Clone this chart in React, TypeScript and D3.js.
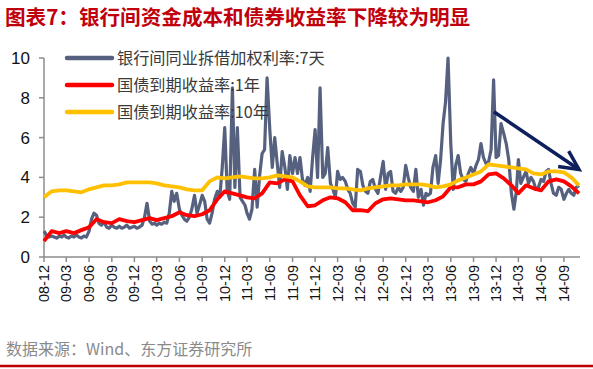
import * as d3 from "d3";

// 银行间同业拆借加权利率:7天 — one reading every 10 days (1st, 11th, 21st)
const rate7d = [
  1.3, 1.1, 1.0, 1.05, 1.0, 0.95, 1.05, 1.0, 1.1, 1.0,
  0.95, 1.05, 1.0, 1.1, 1.0, 0.95, 1.05, 1.0, 1.3, 1.9,
  2.2, 2.1, 1.7, 1.6, 1.75, 1.5, 1.45, 1.6, 1.5, 1.45,
  1.55, 1.45, 1.5, 1.6, 1.45, 1.5, 1.55, 1.45, 1.5, 1.6,
  2.0, 2.7, 1.8, 1.65, 1.7, 1.6, 1.7, 1.65, 1.75, 1.7,
  2.2, 3.3, 2.8, 3.2, 2.4, 2.1, 1.9, 1.8, 2.0, 2.4,
  3.1, 2.2, 2.6, 3.1, 2.8, 1.9, 1.7, 2.2, 2.9, 3.3,
  3.0, 4.5, 6.5, 3.3, 2.9, 8.5, 3.5, 6.5, 3.0, 2.8,
  2.6, 2.2, 1.9, 2.4, 4.4, 2.5, 4.1, 5.2, 5.4, 9.0,
  6.4, 4.5, 6.0, 4.7, 3.5, 5.3, 4.5, 3.4, 5.1, 4.2,
  5.0, 4.2, 5.0, 3.9, 3.6, 4.0, 3.3, 5.0, 6.4, 4.0,
  8.5, 4.0, 4.2, 5.5, 3.7, 3.4, 3.0, 4.3, 3.9, 4.0,
  3.8, 3.4, 3.2, 2.7, 2.5, 4.4, 4.3, 3.6, 3.3, 3.2,
  3.8, 3.9, 3.4, 3.2, 4.0, 4.8, 3.4, 4.2, 4.3, 3.3,
  3.2, 3.5, 3.3, 3.5, 4.6, 4.0, 3.5, 3.3, 4.4, 3.0,
  3.4, 2.6, 3.2, 3.1, 3.2, 4.5, 5.1, 3.7, 4.9, 6.7,
  7.8, 10.0, 5.7, 3.4, 4.6, 5.1, 4.2, 3.9, 3.8, 4.2,
  4.5, 4.2, 4.6, 4.9, 5.7, 5.0, 4.7, 4.8, 5.4, 8.9,
  5.0, 5.1, 6.7, 6.2, 5.7, 4.9, 3.2, 2.4, 3.3, 4.9,
  3.7, 4.0, 4.3, 3.7, 4.0, 3.8, 3.4, 3.5, 3.9, 3.8,
  4.3, 4.4, 3.7, 3.2, 3.1, 3.5, 3.4, 2.9, 3.2, 3.4,
  3.2, 3.1, 3.5, 3.6,
];

// 国债到期收益率:1年 — monthly
const yield1y = [
  0.8, 1.3, 1.2, 1.3, 1.2, 1.35, 1.5, 1.9, 1.75, 1.7,
  1.9, 1.8, 1.75, 1.85, 1.95, 1.85, 1.95, 2.05, 2.25, 2.1,
  2.05, 2.15, 2.35, 2.9, 3.3, 3.2, 3.1, 3.0, 2.95, 3.2,
  3.75, 3.7, 3.9, 3.8, 3.1, 2.55, 2.6, 2.85, 3.0, 2.95,
  2.75, 2.35, 2.35, 2.3, 2.7, 2.9, 2.95, 2.9, 2.85, 2.85,
  2.8, 2.75, 2.85, 3.05, 3.5, 3.5, 3.65, 3.65, 3.8, 4.15,
  4.2, 3.95, 3.6, 3.2, 3.6, 3.45, 3.35, 3.8, 3.9, 3.8,
  3.55, 3.2,
];

// 国债到期收益率:10年 — monthly
const yield10y = [
  3.0, 3.3, 3.35, 3.35, 3.3, 3.25, 3.4, 3.5, 3.6, 3.6,
  3.65, 3.75, 3.75, 3.75, 3.75, 3.7, 3.6, 3.55, 3.5, 3.4,
  3.35, 3.35, 3.8, 4.0, 3.95, 4.0, 4.05, 4.0, 3.95, 3.95,
  4.0, 4.1, 4.05, 4.0, 3.8, 3.55, 3.5, 3.5, 3.5, 3.45,
  3.45, 3.4, 3.35, 3.45, 3.5, 3.55, 3.6, 3.6, 3.65, 3.65,
  3.65, 3.6, 3.5, 3.55, 3.65, 3.85, 4.0, 4.15, 4.3, 4.65,
  4.6, 4.55, 4.5, 4.45, 4.4, 4.2, 4.15, 4.3, 4.3, 4.25,
  4.0, 3.6,
];

const tickLabels = [
  "08-12", "09-03", "09-06", "09-09", "09-12", "10-03", "10-06", "10-09",
  "10-12", "11-03", "11-06", "11-09", "11-12", "12-03", "12-06", "12-09",
  "12-12", "13-03", "13-06", "13-09", "13-12", "14-03", "14-06", "14-09",
];
const yTicks = [0, 2, 4, 6, 8, 10];

const seriesNames = ["银行间同业拆借加权利率:7天", "国债到期收益率:1年", "国债到期收益率:10年"];
const colors = ["#56617f", "#ff0000", "#ffc000"];
const widths = [3.2, 3.8, 3.8];

// arrow annotation, in data space
const arrowFrom = { date: "2013-11-22", value: 7.3 };
const arrowTo = { date: "2014-11-01", value: 4.4 };

const parseYm = (s: string) => new Date(2000 + +s.slice(0, 2), +s.slice(3) - 1, 1);

const monthDates = d3.timeMonth.range(new Date(2008, 11, 1), new Date(2014, 11, 1)).slice(0, yield1y.length);
const rateDates: Date[] = [];
monthDates.forEach((m) => [1, 11, 21].forEach((d) => rateDates.push(new Date(m.getFullYear(), m.getMonth(), d))));
rateDates.length = rate7d.length;

export default function App() {
  const W = 593, H = 369;
  const x = d3.scaleTime().domain([new Date(2008, 11, 1), new Date(2014, 10, 5)]).range([44, 580]);
  const y = d3.scaleLinear().domain([0, 10]).range([257, 58]);

  const line = d3
    .line<[Date, number]>()
    .x((d) => x(d[0]))
    .y((d) => y(d[1]));

  const series = [
    rateDates.map((d, i) => [d, rate7d[i]] as [Date, number]),
    monthDates.map((d, i) => [d, yield1y[i]] as [Date, number]),
    monthDates.map((d, i) => [d, yield10y[i]] as [Date, number]),
  ];

  // arrow
  const ax1 = x(new Date(arrowFrom.date)), ay1 = y(arrowFrom.value);
  const ax2 = x(new Date(arrowTo.date)), ay2 = y(arrowTo.value);
  const ang = Math.atan2(ay1 - ay2, ax1 - ax2);
  const hl = 21, spread = 0.46;
  const head = [
    [ax2 + hl * Math.cos(ang - spread), ay2 + hl * Math.sin(ang - spread)],
    [ax2, ay2],
    [ax2 + hl * Math.cos(ang + spread), ay2 + hl * Math.sin(ang + spread)],
  ];

  const cjk = '"Noto Sans CJK SC", "Noto Sans", sans-serif';
  const latin = '"Liberation Sans", Arial, sans-serif';

  return (
    <svg width={W} height={H} style={{ display: "block", position: "absolute", left: 0, top: 0, background: "#fff" }}>
      <style>{`body{margin:0}`}</style>
      <text x={5} y={25} fill="#c0000c" fontFamily={cjk} fontSize={20.6} fontWeight={700}>
        图表7：银行间资金成本和债券收益率下降较为明显
      </text>

      {/* y axis */}
      <line x1={44} x2={44} y1={y(10)} y2={y(0)} stroke="#8c8c8c" strokeWidth={1.5} />
      {yTicks.map((t) => (
        <g key={t}>
          <line x1={39} x2={44} y1={y(t)} y2={y(t)} stroke="#8c8c8c" strokeWidth={1.5} />
          <text x={30} y={y(t)} dy="0.35em" textAnchor="end" fontFamily={latin} fontSize={17} fill="#111">
            {t}
          </text>
        </g>
      ))}

      {/* x axis */}
      <line x1={44} x2={580} y1={y(0)} y2={y(0)} stroke="#8c8c8c" strokeWidth={1.5} />
      {tickLabels.map((l) => {
        const tx = x(parseYm(l));
        return (
          <g key={l}>
            <line x1={tx} x2={tx} y1={y(0)} y2={y(0) + 5} stroke="#8c8c8c" strokeWidth={1.5} />
            <text
              transform={`translate(${tx},${y(0) + 8}) rotate(-90)`}
              textAnchor="end"
              dy="0.35em"
              fontFamily={latin}
              fontSize={14.5}
              fill="#111"
            >
              {l}
            </text>
          </g>
        );
      })}

      {/* series */}
      {series.map((s, i) => (
        <path key={i} d={line(s) || ""} fill="none" stroke={colors[i]} strokeWidth={widths[i]} strokeLinejoin="round" />
      ))}

      {/* arrow */}
      <line x1={ax1} y1={ay1} x2={ax2} y2={ay2} stroke="#0d1f5c" strokeWidth={3.5} />
      <polyline points={head.map((p) => p.join(",")).join(" ")} fill="none" stroke="#0d1f5c" strokeWidth={3.5} />

      {/* legend */}
      {seriesNames.map((n, i) => (
        <g key={n} transform={`translate(0,${58 + i * 27})`}>
          <line x1={67} x2={112} y1={0} y2={0} stroke={colors[i]} strokeWidth={4.5} strokeLinecap="round" />
          <text x={117} y={0} dy="0.36em" fontFamily={cjk} fontSize={16.2} fill="#3a3a3a">
            {n}
          </text>
        </g>
      ))}

      <text x={6} y={355} fontFamily={cjk} fontSize={16} fill="#8a8a8a">
        数据来源：Wind、东方证券研究所
      </text>
      <line x1={0} x2={W} y1={366} y2={366} stroke="#c00000" strokeWidth={2.5} />
    </svg>
  );
}
